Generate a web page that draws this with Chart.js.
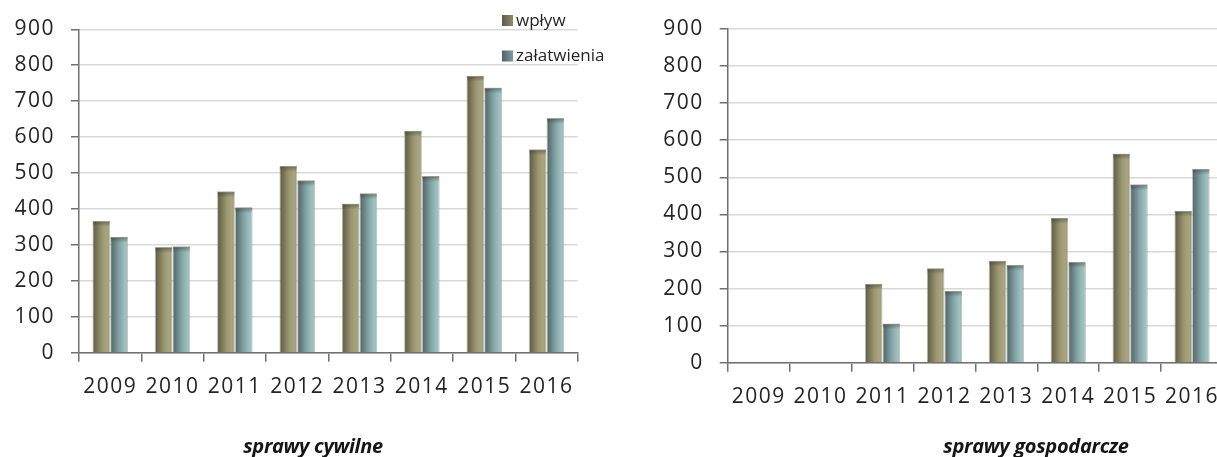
<!DOCTYPE html>
<html>
<head>
<meta charset="utf-8">
<script src="https://cdn.jsdelivr.net/npm/chart.js@4"></script>
<style>
  html, body { margin: 0; padding: 0; background: #fff; overflow: hidden; }
  body { width: 1217px; height: 457px; position: relative; }
  .box { position: absolute; top: 0; height: 457px; }
  .title {
    position: absolute; transform: translate(-50%, -50%);
    font: italic bold 20px "Open Sans", sans-serif; color: #151515; white-space: nowrap;
    letter-spacing: -0.3px;
  }
</style>
</head>
<body>
<div class="box" style="left:0;width:615px"><canvas id="civil"></canvas></div>
<div class="box" style="left:620px;width:620px"><canvas id="business"></canvas></div>
<div class="title" style="left:313px;top:445px">sprawy cywilne</div>
<div class="title" style="left:1036px;top:445px">sprawy gospodarcze</div>
<script>
// data
const years = ['2009', '2010', '2011', '2012', '2013', '2014', '2015', '2016'];
const seriesLabels = ['wpływ', 'załatwienia'];
const civilIn = [367, 294, 449, 520, 415, 618, 771, 566];
const civilDone = [323, 296, 405, 480, 444, 492, 738, 653];
const businessIn = [null, null, 213, 255, 275, 391, 564, 410];
const businessDone = [null, null, 106, 194, 264, 272, 481, 523];
const yTicks = [0, 100, 200, 300, 400, 500, 600, 700, 800, 900];

const CAT_PCT = 0.57;
const TEXT = '#242424';
const AXIS = '#707070';

const olive = [[0, '#5b5a42'], [0.55, '#9c9871'], [0.82, '#a8a57f'], [1, '#999672']];
const teal = [[0, '#4e6264'], [0.5, '#82a3a4'], [0.85, '#9ec2c1'], [1, '#96b9b8']];

// horizontal gradient per bar, computed from the x scale
function barFill(stops) {
    return (c) => {
        const chart = c.chart;
        const x = chart.scales && chart.scales.x;
        if (!chart.chartArea || !x || c.dataIndex === undefined) return stops[0][1];
        const cw = x.width / years.length;
        const barW = cw * CAT_PCT / 2;
        const left = x.getPixelForValue(c.dataIndex) - cw * CAT_PCT / 2 + c.datasetIndex * barW;
        const g = chart.ctx.createLinearGradient(left, 0, left + barW, 0);
        stops.forEach(([o, col]) => g.addColorStop(o, col));
        return g;
    };
}

// wider letter spacing to mimic the original face
const spacing = {
    id: 'spacing',
    beforeLayout(chart) { chart.ctx.letterSpacing = '1.5px'; },
    beforeDraw(chart) { chart.ctx.letterSpacing = '1.5px'; }
};

// darker bevel along the top of each bar
const bevel = {
    id: 'bevel',
    afterDatasetsDraw(chart) {
        const ctx = chart.ctx;
        ctx.save();
        chart.data.datasets.forEach((ds, i) => {
            chart.getDatasetMeta(i).data.forEach((bar, j) => {
                if (ds.data[j] == null) return;
                const w = bar.width, left = bar.x - w / 2;
                const g = ctx.createLinearGradient(0, bar.y, 0, bar.y + 6);
                g.addColorStop(0, 'rgba(40,40,30,0.45)');
                g.addColorStop(1, 'rgba(40,40,30,0)');
                ctx.fillStyle = g;
                ctx.fillRect(left + 0.5, bar.y + 0.5, w - 1, 6);
            });
        });
        ctx.restore();
    }
};

const legendBox = {
    id: 'legendBox',
    afterDraw(chart) {
        const ctx = chart.ctx;
        const rows = [
            { y: 15, ty: 21, col: ['#5d5c45', '#8f8c68'] },
            { y: 50.5, ty: 56.5, col: ['#4f6365', '#7e9c9c'] }
        ];
        ctx.save();
        ctx.letterSpacing = '0px';
        ctx.font = '17px "Open Sans", sans-serif';
        ctx.textBaseline = 'middle';
        ctx.textAlign = 'left';
        rows.forEach((r, i) => {
            const g = ctx.createLinearGradient(502, 0, 513, 0);
            g.addColorStop(0, r.col[0]);
            g.addColorStop(1, r.col[1]);
            ctx.fillStyle = g;
            ctx.fillRect(502, r.y, 11, 11);
            ctx.fillStyle = TEXT;
            ctx.fillText(chart.data.datasets[i].label, 516, r.ty);
        });
        ctx.restore();
    }
};

function makeChart(id, inData, doneData, opts) {
    const plugins = [spacing, bevel];
    if (opts.legend) plugins.push(legendBox);
    return new Chart(document.getElementById(id), {
        type: 'bar',
        data: {
            labels: years,
            datasets: [
                { label: seriesLabels[0], data: inData, backgroundColor: barFill(olive) },
                { label: seriesLabels[1], data: doneData, backgroundColor: barFill(teal) }
            ]
        },
        options: {
            responsive: true,
            maintainAspectRatio: false,
            animation: false,
            datasets: {
                bar: {
                    barPercentage: 1,
                    categoryPercentage: CAT_PCT,
                    borderWidth: 1,
                    borderColor: 'rgba(140,140,130,0.55)'
                }
            },
            layout: { padding: { left: 0, right: opts.padRight, top: opts.top, bottom: 457 - opts.bottom - 60 } },
            plugins: { legend: { display: false }, tooltip: { enabled: false } },
            scales: {
                x: {
                    afterFit: s => { s.height = 60; },
                    grid: { drawOnChartArea: false, drawTicks: true, tickLength: 9, tickColor: AXIS, lineWidth: 1.5, offset: true },
                    border: { color: AXIS, width: 1.5 },
                    ticks: { color: TEXT, padding: 13, font: { family: '"Open Sans", sans-serif', size: 21 } }
                },
                y: {
                    min: 0,
                    max: 900,
                    afterFit: s => { s.width = opts.axisX; },
                    afterBuildTicks: s => { s.ticks = yTicks.map(v => ({ value: v })); },
                    grid: { color: '#d9d9d9', lineWidth: 1.5, drawTicks: true, tickLength: 8, tickColor: AXIS },
                    border: { color: AXIS, width: 1.5 },
                    ticks: { color: TEXT, padding: 16, font: { family: '"Open Sans", sans-serif', size: 21 } }
                }
            }
        },
        plugins
    });
}

makeChart('civil', civilIn, civilDone, { axisX: 79, padRight: 37.3, top: 29.3, bottom: 352.7, legend: true });
makeChart('business', businessIn, businessDone, { axisX: 107.7, padRight: 17, top: 29, bottom: 362.7, legend: false });
</script>
</body>
</html>
